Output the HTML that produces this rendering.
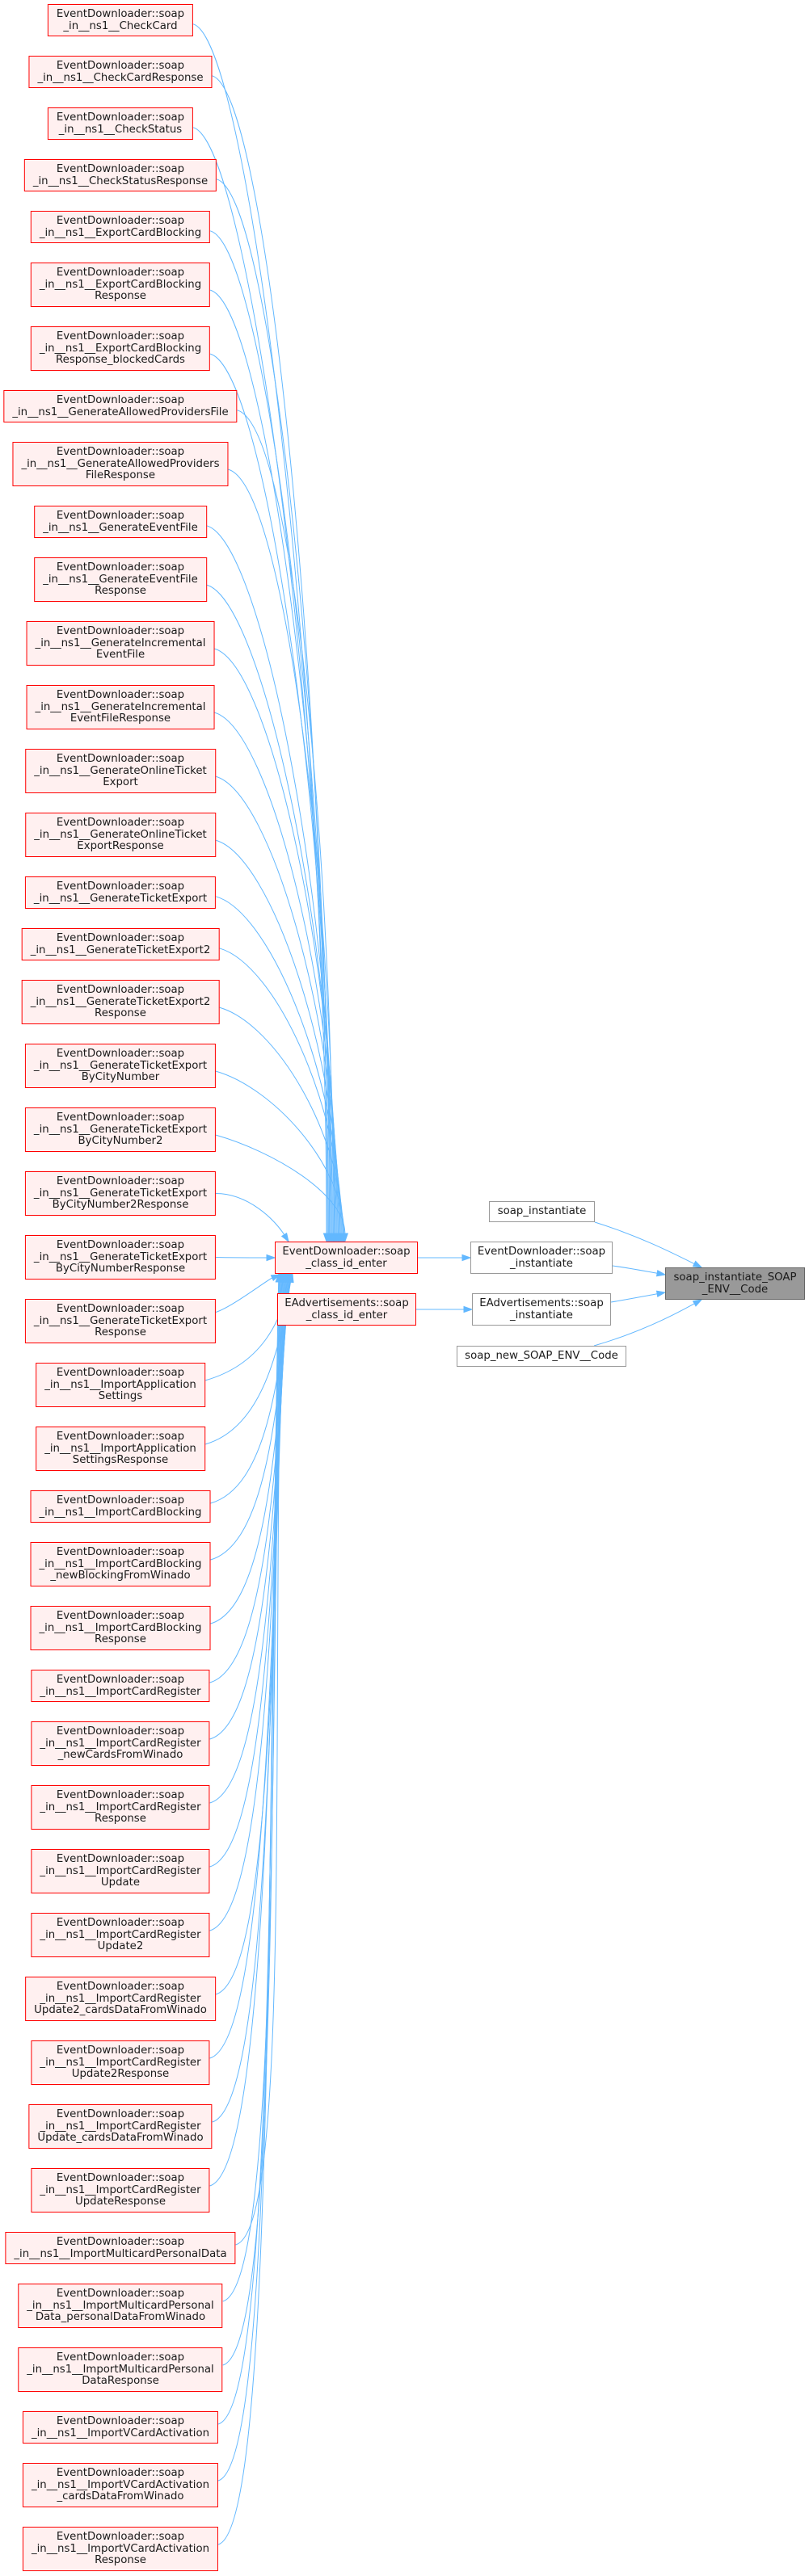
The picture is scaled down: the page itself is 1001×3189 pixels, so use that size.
<!DOCTYPE html>
<html><head><meta charset="utf-8">
<style>
html,body{margin:0;padding:0;background:#fff;}
#c{position:relative;width:1001px;height:3189px;overflow:hidden;font-family:"DejaVu Sans","Liberation Sans",sans-serif;font-size:13.3px;color:#1a1a1a;}
.n{position:absolute;box-sizing:border-box;border:1px solid #ff0000;background:#fff0f0;text-align:center;white-space:nowrap;line-height:14.7px;padding:5px 10px 0 10px;}
.l{left:149px;transform:translateX(-50%);}
.w{border-color:#999;background:#fff;}
.g{border-color:#666;background:#999;}
svg{position:absolute;left:0;top:0;}
</style></head><body>
<div id="c">
<svg id="s" width="1001" height="3189"></svg>
</div>
<script>
var L=[
["_in__ns1__CheckCard"],["_in__ns1__CheckCardResponse"],["_in__ns1__CheckStatus"],["_in__ns1__CheckStatusResponse"],
["_in__ns1__ExportCardBlocking"],["_in__ns1__ExportCardBlocking","Response"],["_in__ns1__ExportCardBlocking","Response_blockedCards"],
["_in__ns1__GenerateAllowedProvidersFile"],["_in__ns1__GenerateAllowedProviders","FileResponse"],["_in__ns1__GenerateEventFile"],
["_in__ns1__GenerateEventFile","Response"],["_in__ns1__GenerateIncremental","EventFile"],["_in__ns1__GenerateIncremental","EventFileResponse"],
["_in__ns1__GenerateOnlineTicket","Export"],["_in__ns1__GenerateOnlineTicket","ExportResponse"],["_in__ns1__GenerateTicketExport"],
["_in__ns1__GenerateTicketExport2"],["_in__ns1__GenerateTicketExport2","Response"],["_in__ns1__GenerateTicketExport","ByCityNumber"],
["_in__ns1__GenerateTicketExport","ByCityNumber2"],["_in__ns1__GenerateTicketExport","ByCityNumber2Response"],["_in__ns1__GenerateTicketExport","ByCityNumberResponse"],
["_in__ns1__GenerateTicketExport","Response"],["_in__ns1__ImportApplication","Settings"],["_in__ns1__ImportApplication","SettingsResponse"],
["_in__ns1__ImportCardBlocking"],["_in__ns1__ImportCardBlocking","_newBlockingFromWinado"],["_in__ns1__ImportCardBlocking","Response"],
["_in__ns1__ImportCardRegister"],["_in__ns1__ImportCardRegister","_newCardsFromWinado"],["_in__ns1__ImportCardRegister","Response"],
["_in__ns1__ImportCardRegister","Update"],["_in__ns1__ImportCardRegister","Update2"],["_in__ns1__ImportCardRegister","Update2_cardsDataFromWinado"],
["_in__ns1__ImportCardRegister","Update2Response"],["_in__ns1__ImportCardRegister","Update_cardsDataFromWinado"],["_in__ns1__ImportCardRegister","UpdateResponse"],
["_in__ns1__ImportMulticardPersonalData"],["_in__ns1__ImportMulticardPersonal","Data_personalDataFromWinado"],["_in__ns1__ImportMulticardPersonal","DataResponse"],
["_in__ns1__ImportVCardActivation"],["_in__ns1__ImportVCardActivation","_cardsDataFromWinado"],["_in__ns1__ImportVCardActivation","Response"]];
var c=document.getElementById('c'),s=document.getElementById('s'),NS="http://www.w3.org/2000/svg";
var y=5,nodes=[];
L.forEach(function(a){
  var d=document.createElement('div');d.className='n l';
  var h=a.length==1?40:55;
  d.style.top=y+'px';d.style.height=h+'px';
  d.innerHTML=['EventDownloader::soap'].concat(a).join('<br>');
  c.appendChild(d);nodes.push({d:d,top:y,h:h});
  y+=h+24;
});
function box(t,x,y,w,h,cls){var d=document.createElement('div');d.className='n '+(cls||'');d.style.left=x+'px';d.style.top=y+'px';d.style.width=w+'px';d.style.height=h+'px';d.style.padding='5px 0 0 0';d.innerHTML=t;c.appendChild(d);return d;}
box('EventDownloader::soap<br>_class_id_enter',340,1537,177,40);
box('EAdvertisements::soap<br>_class_id_enter',343,1601,172,40);
var si=box('soap_instantiate',605,1487,131,26,'w');si.style.paddingTop='5px';
box('EventDownloader::soap<br>_instantiate',582,1537,176,40,'w');
box('EAdvertisements::soap<br>_instantiate',584,1601,172,40,'w');
var sn=box('soap_new_SOAP_ENV__Code',565,1666,210,26,'w');
box('soap_instantiate_SOAP<br>_ENV__Code',823,1569,173,40,'g');
var col='#63b8ff';
function path(d){var p=document.createElementNS(NS,'path');p.setAttribute('d',d);p.setAttribute('fill','none');p.setAttribute('stroke',col);p.setAttribute('stroke-width','1');s.appendChild(p);}
function arrow(x,y,ux,uy){var l=Math.hypot(ux,uy);ux/=l;uy/=l;var bx=x-ux*10,by=y-uy*10,px=-uy*3.5,py=ux*3.5;
 var p=document.createElementNS(NS,'polygon');p.setAttribute('points',x+','+y+' '+(bx+px)+','+(by+py)+' '+(bx-px)+','+(by-py));p.setAttribute('fill',col);p.setAttribute('stroke',col);s.appendChild(p);}
function edge(x1,y1,c1x,c1y,c2x,c2y,x2,y2){
 var ux=x2-c2x,uy=y2-c2y,l=Math.hypot(ux,uy);var ex=x2-ux/l*10,ey=y2-uy/l*10;
 path('M'+x1+','+y1+' C'+c1x+','+c1y+' '+c2x+','+c2y+' '+ex+','+ey);arrow(x2,y2,ux,uy);}
nodes.forEach(function(n,i){
  var r=n.d.getBoundingClientRect();var xr=r.right,ym=n.top+n.h*0.62;
  if(i<20){var xt=404+i*1.2,yt=1537;
    edge(xr,ym,xr+70,ym+20,xt,ym+(yt-ym)*0.55,xt,yt);}
  else if(i==20){edge(xr,n.top+n.h/2,xr+40,n.top+n.h/2,340,1510,357,1537);}
  else if(i==21){edge(xr,n.top+n.h/2,xr+20,1557,320,1557,340,1557);}
  else if(i==22){edge(xr,n.top+n.h*0.3,xr+20,n.top+10,330,1585,346,1578);}
  else{var xt=362-(i-23)*0.9,yt=1577;ym=n.top+n.h*0.4;
    edge(xr,ym,xr+70,ym-20,xt-15,ym+(yt-ym)*0.55,xt,yt);}
});
edge(517,1557,540,1557,560,1557,582,1557);
edge(515,1621,540,1621,560,1621,584,1621);
edge(736,1513,790,1530,830,1550,868,1569);
edge(758,1567,780,1570,800,1574,823,1578);
edge(756,1612,780,1608,800,1604,823,1600);
edge(735,1666,790,1650,830,1630,868,1609);
</script>
</body></html>
